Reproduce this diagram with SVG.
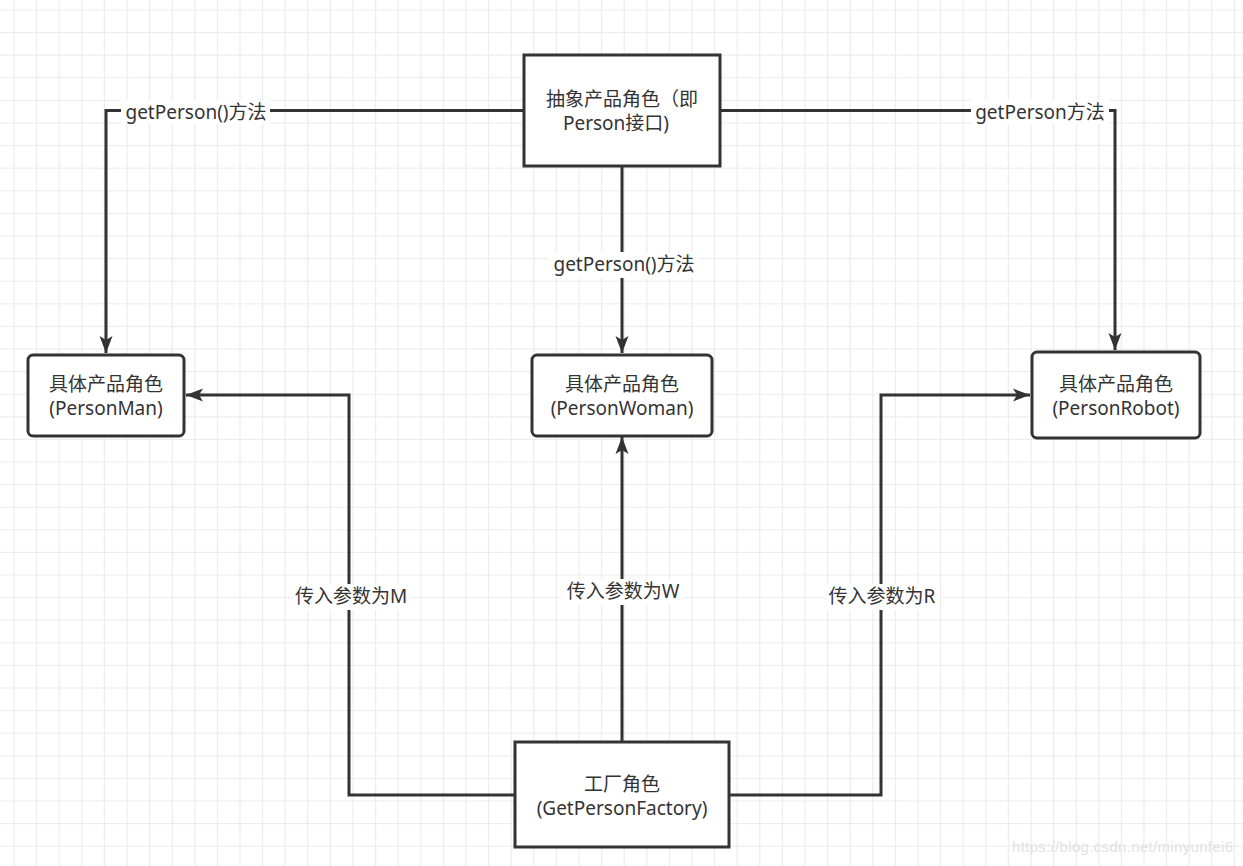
<svg xmlns="http://www.w3.org/2000/svg" width="1243" height="866" viewBox="0 0 1243 866">
<style>
.node{fill:#ffffff;stroke:#333333;stroke-width:3}
.t{font-family:"Noto Sans","Noto Sans CJK SC",sans-serif;font-size:19px;fill:#333333;text-anchor:middle;dominant-baseline:central}
.edge{fill:none;stroke:#333333;stroke-width:3}
.lblbg{fill:#ffffff}
</style>
<defs>
<pattern id="grid" patternUnits="userSpaceOnUse" x="2.7" y="-1.3" width="22.6" height="22.6">
<path d="M11.3,0 V22.6 M0,11.3 H22.6" stroke="#ebebeb" stroke-width="1.2" fill="none"/>
</pattern>
<marker id="arr" markerUnits="userSpaceOnUse" markerWidth="18" markerHeight="14" refX="17" refY="7" orient="auto">
<path d="M0,0.5 L17,7 L0,13.5 L4,7 Z" fill="#333333"/>
</marker>
</defs>
<rect width="1243" height="866" fill="#ffffff"/>
<rect width="1243" height="866" fill="url(#grid)"/>

<g id="connectors">
<path class="edge" d="M524,110.5 H106 V353" marker-end="url(#arr)"/>
<path class="edge" d="M720,110.5 H1115 V350" marker-end="url(#arr)"/>
<path class="edge" d="M622,166 V353" marker-end="url(#arr)"/>
<path class="edge" d="M515,795 H349 V395 H186" marker-end="url(#arr)"/>
<path class="edge" d="M622,742 V437" marker-end="url(#arr)"/>
<path class="edge" d="M729,795 H881 V395 H1030" marker-end="url(#arr)"/>
<g id="labels">
<rect class="lblbg" x="121" y="100" width="149" height="24"/>
<text class="t" x="196" y="112">getPerson()方法</text>
<rect class="lblbg" x="971" y="100" width="138" height="24"/>
<text class="t" x="1040" y="112">getPerson方法</text>
<rect class="lblbg" x="549" y="252" width="150" height="26"/>
<text class="t" x="624" y="264">getPerson()方法</text>
<rect class="lblbg" x="292" y="584" width="119" height="26"/>
<text class="t" x="351" y="596">传入参数为M</text>
<rect class="lblbg" x="562" y="579" width="122" height="26"/>
<text class="t" x="623" y="591">传入参数为W</text>
<rect class="lblbg" x="825" y="584" width="115" height="26"/>
<text class="t" x="882" y="596">传入参数为R</text>
</g>
</g>

<g id="abstract-product">
<rect class="node" x="524" y="55" width="196" height="111"/>
<text class="t" x="622" y="99">抽象产品角色（即</text>
<text class="t" x="616" y="123">Person接口)</text>
</g>

<g id="person-man">
<rect class="node" x="28" y="355" width="156" height="81" rx="5"/>
<text class="t" x="106" y="384">具体产品角色</text>
<text class="t" x="106" y="408">(PersonMan)</text>
</g>

<g id="person-woman">
<rect class="node" x="532" y="355" width="180" height="81" rx="5"/>
<text class="t" x="622" y="384">具体产品角色</text>
<text class="t" x="622" y="408">(PersonWoman)</text>
</g>

<g id="person-robot">
<rect class="node" x="1032" y="352" width="168" height="86" rx="5"/>
<text class="t" x="1116" y="384">具体产品角色</text>
<text class="t" x="1116" y="408">(PersonRobot)</text>
</g>

<g id="factory">
<rect class="node" x="515" y="742" width="214" height="105"/>
<text class="t" x="622" y="784">工厂角色</text>
<text class="t" x="622" y="808">(GetPersonFactory)</text>
</g>

<text x="1012" y="852" font-family="Liberation Sans, Arial, sans-serif" font-size="15" fill="#e2e2e2" textLength="221">https://blog.csdn.net/minyunfei6</text>
</svg>
